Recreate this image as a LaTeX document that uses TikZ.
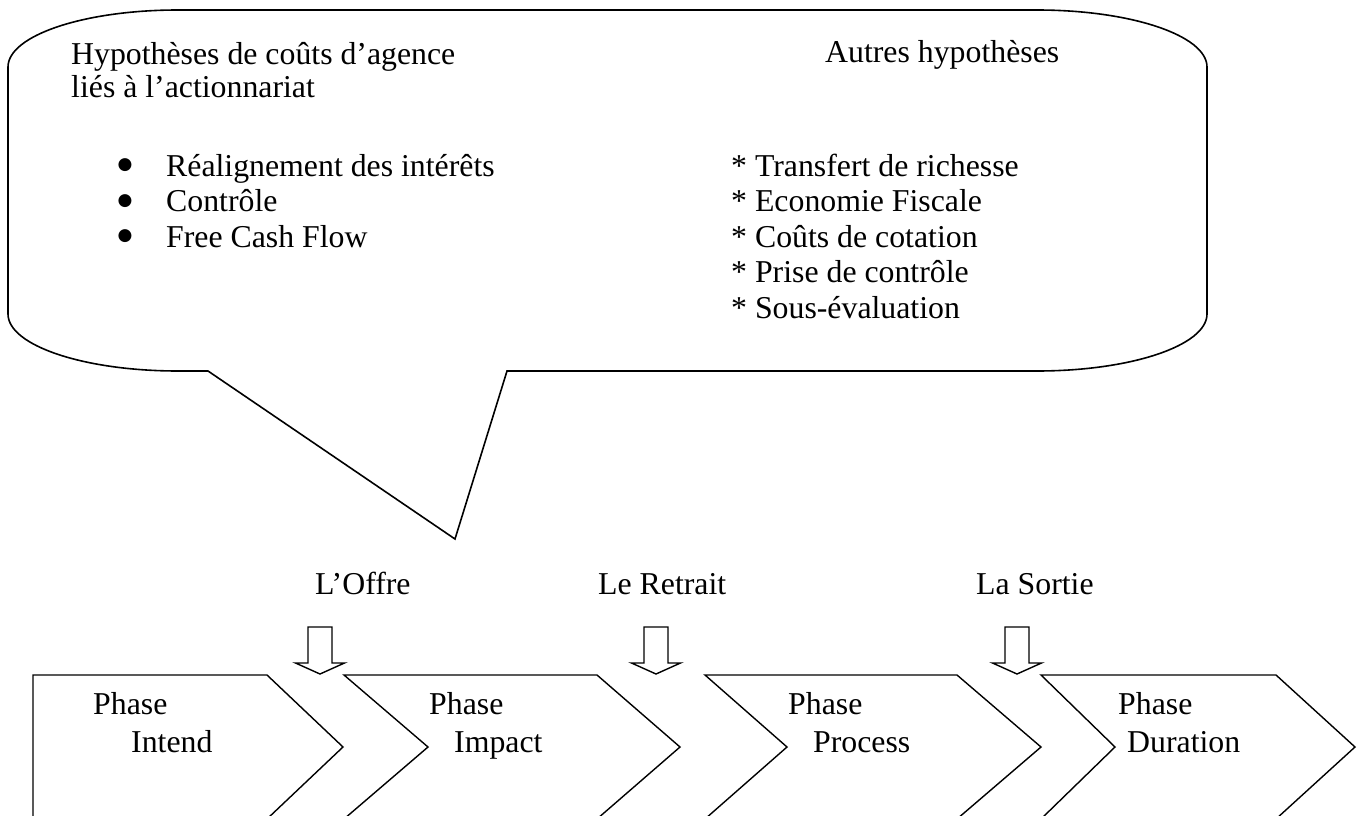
\documentclass[tikz,border=0pt]{standalone}
\usepackage{fontspec}
\setmainfont{Liberation Serif}
\newfontfamily\bulfont{DejaVu Sans}
\begin{document}
\begin{tikzpicture}[x=1pt,y=-1pt,line join=miter,
  txt/.style={inner sep=0pt,anchor=base west,font=\fontsize{31.8}{36}\selectfont},
  bul/.style={inner sep=0pt,anchor=center,font=\bulfont\fontsize{17}{20}\selectfont},
  outl/.style={draw=black,line width=1.6pt},
  chev/.style={draw=black,line width=1.4pt},
  barrow/.style={draw=black,line width=1.4pt,fill=white}]
\useasboundingbox (0,0) rectangle (1361,816);
\clip (0,0) rectangle (1361,816);
% callout
\draw[outl] (178,10) -- (1037,10) .. controls (1131,10) and (1207,35.5) .. (1207,67)
  -- (1207,314) .. controls (1207,345.5) and (1131,371) .. (1037,371)
  -- (507,371) -- (455,539) -- (208,371) -- (178,371)
  .. controls (84,371) and (8,345.5) .. (8,314)
  -- (8,67) .. controls (8,35.5) and (84,10) .. (178,10) -- cycle;
% texts in callout
\node[txt] (h1) at (71,65) {Hypothèses de coûts d’agence};
\node[txt] (h2) at (71,98) {liés à l’actionnariat};
\node[txt] (a1) at (825,63) {Autres hypothèses};
\node[bul] (b1) at (125,165.5) {●};
\node[bul] (b2) at (125,201) {●};
\node[bul] (b3) at (125,236.5) {●};
\node[txt] (l1) at (166,176) {Réalignement des intérêts};
\node[txt] (l2) at (166,211.5) {Contrôle};
\node[txt] (l3) at (166,247) {Free Cash Flow};
\node[txt] (r1) at (731,176) {* Transfert de richesse};
\node[txt] (r2) at (731,211.5) {* Economie Fiscale};
\node[txt] (r3) at (731,247) {* Coûts de cotation};
\node[txt] (r4) at (731,282.5) {* Prise de contrôle};
\node[txt] (r5) at (731,318) {* Sous-évaluation};
% chevrons
\draw[chev] (33,675) -- (267,675) -- (343,747) -- (267,819) -- (33,819) -- cycle;
\draw[chev] (344,675) -- (597,675) -- (680,747) -- (597,819) -- (344,819) -- (428,747) -- cycle;
\draw[chev] (705,675) -- (957,675) -- (1041,747) -- (957,819) -- (705,819) -- (787,747) -- cycle;
\draw[chev] (1041,675) -- (1276,675) -- (1355,747) -- (1276,819) -- (1041,819) -- (1115,747) -- cycle;
% block arrows
\foreach \c in {320,656,1017}{
  \draw[barrow] (\c-12,627) -- (\c+12,627) -- (\c+12,663) -- (\c+24.5,663) -- (\c,674)
    -- (\c-24.5,663) -- (\c-12,663) -- cycle;
}
% labels
\node[txt] (o) at (315,594) {L’Offre};
\node[txt] (r) at (598,594) {Le Retrait};
\node[txt] (s) at (976,594) {La Sortie};
\node[txt] (p1a) at (93,714) {Phase};
\node[txt] (p1b) at (131,752) {Intend};
\node[txt] (p2a) at (429,714) {Phase};
\node[txt] (p2b) at (454,752) {Impact};
\node[txt] (p3a) at (788,714) {Phase};
\node[txt] (p3b) at (813,752) {Process};
\node[txt] (p4a) at (1118,714) {Phase};
\node[txt] (p4b) at (1127,752) {Duration};
\end{tikzpicture}
\end{document}
